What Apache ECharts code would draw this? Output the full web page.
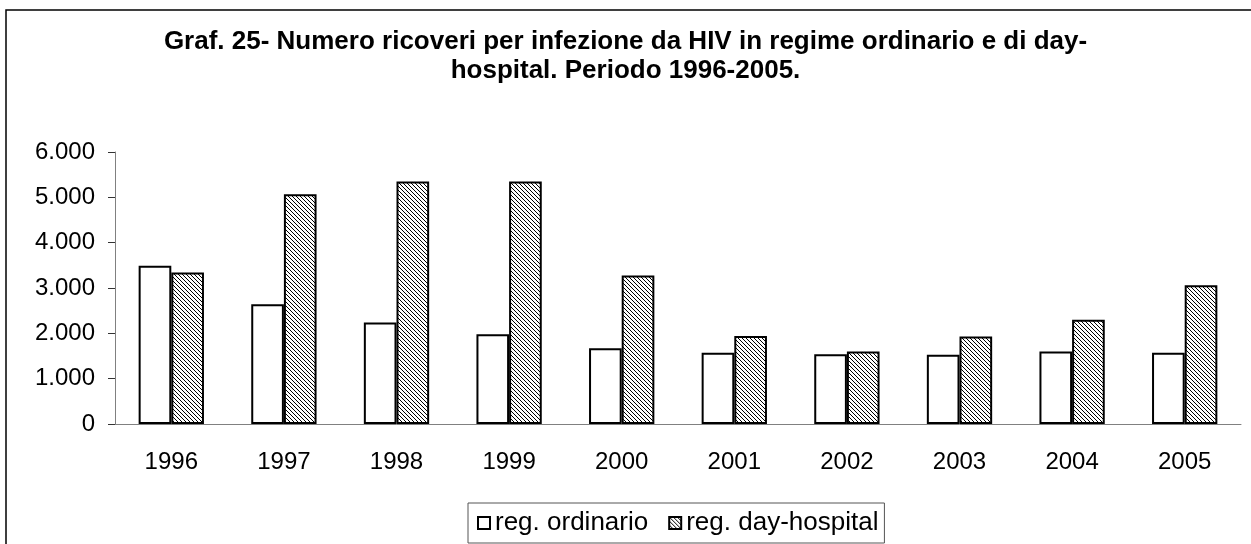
<!DOCTYPE html>
<html>
<head>
<meta charset="utf-8">
<script src="https://cdn.jsdelivr.net/npm/echarts@6/dist/echarts.min.js"></script>
<style>
  html, body { margin: 0; padding: 0; background: #fff; }
  #main { width: 1251px; height: 544px; }
</style>
</head>
<body>
<div id="main"></div>
<script>
var anni = ['1996', '1997', '1998', '1999', '2000', '2001', '2002', '2003', '2004', '2005'];
var ordinario = [3490, 2640, 2240, 1980, 1670, 1570, 1540, 1530, 1600, 1570];
var dayHospital = [3340, 5070, 5350, 5350, 3275, 1940, 1600, 1930, 2300, 3060];

function fmt(v) {
  return String(v).replace(/\B(?=(\d{3})+(?!\d))/g, '.');
}

// hatch pattern (diagonal lines, top-left to bottom-right)
var tile = document.createElement('canvas');
tile.width = 4; tile.height = 4;
var ctx = tile.getContext('2d');
ctx.fillStyle = '#fff';
ctx.fillRect(0, 0, 4, 4);
ctx.strokeStyle = '#000';
ctx.lineWidth = 1;
ctx.beginPath();
ctx.moveTo(-1, -1); ctx.lineTo(5, 5);
ctx.moveTo(-1, 3); ctx.lineTo(1, 5);
ctx.moveTo(3, -1); ctx.lineTo(5, 1);
ctx.stroke();

var myChart = echarts.init(document.getElementById('main'));

var option = {
  backgroundColor: '#fff',
  animation: false,
  title: {
    text: 'Graf. 25- Numero ricoveri per infezione da HIV in regime ordinario e di day-\nhospital. Periodo 1996-2005.',
    left: 'center',
    top: 22,
    textStyle: {
      fontFamily: 'Liberation Sans',
      fontWeight: 'bold',
      fontSize: 26,
      lineHeight: 29,
      color: '#000'
    }
  },
  graphic: [{
    type: 'rect',
    shape: { x: 6, y: 10, width: 1400, height: 700 },
    style: { fill: 'none', stroke: '#000', lineWidth: 1.5 },
    silent: true
  }],
  legend: {
    left: 468,
    top: 503,
    padding: [6, 6, 6, 9],
    borderColor: '#555',
    borderWidth: 1,
    itemWidth: 12,
    itemHeight: 12,
    itemGap: 20,
    icon: 'rect',
    textStyle: { fontFamily: 'Liberation Sans', fontSize: 26, color: '#000', lineHeight: 28 },
    data: ['reg. ordinario', 'reg. day-hospital']
  },
  grid: { left: 115, right: 10, top: 152, bottom: 120 },
  xAxis: {
    type: 'category',
    data: anni,
    axisLine: { lineStyle: { color: '#808080', width: 1 } },
    axisTick: { length: 7, lineStyle: { color: '#333' } },
    axisLabel: { margin: 26, fontFamily: 'Liberation Sans', fontSize: 24, color: '#000' }
  },
  yAxis: {
    type: 'value',
    min: 0,
    max: 6000,
    interval: 1000,
    splitLine: { show: false },
    axisLine: { show: true, lineStyle: { color: '#808080', width: 1 } },
    axisTick: { show: true, length: 7, lineStyle: { color: '#333' } },
    axisLabel: { margin: 20, fontFamily: 'Liberation Sans', fontSize: 24, color: '#000', formatter: fmt }
  },
  series: [
    {
      name: 'reg. ordinario',
      type: 'bar',
      data: ordinario,
      barGap: '0%',
      barCategoryGap: '42%',
      itemStyle: { color: '#fff', borderColor: '#000', borderWidth: 2 }
    },
    {
      name: 'reg. day-hospital',
      type: 'bar',
      data: dayHospital,
      itemStyle: { color: { image: tile, repeat: 'repeat' }, borderColor: '#000', borderWidth: 2 }
    }
  ]
};

myChart.setOption(option);
</script>
</body>
</html>
